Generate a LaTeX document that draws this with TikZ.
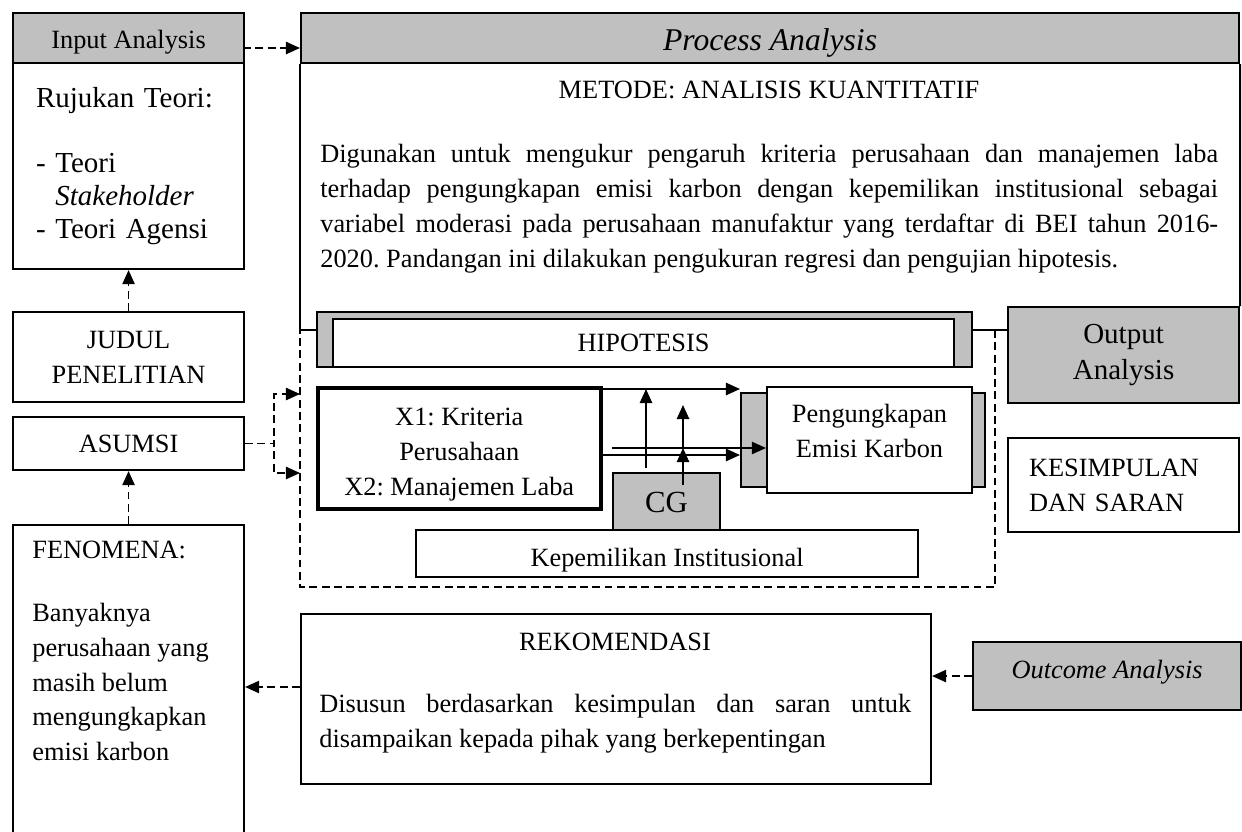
\documentclass[tikz,border=0pt]{standalone}
\usepackage{fontspec}
\setmainfont{Liberation Serif}
\usepackage{tikz}
\usetikzlibrary{arrows.meta}
\frenchspacing
\definecolor{boxgray}{RGB}{192,192,192}
\tikzset{
    >={Triangle[length=8pt,width=7pt]}, % Default arrow tip
    box/.style={draw, line width=1.2pt, inner sep=0pt, anchor=north west},
    greybox/.style={box, fill=boxgray},
    wh/.style 2 args={minimum width=#1*\px, minimum height=#2*\px},
    txt/.style={font=\fontsize{15}{19.8}\selectfont},
    bigtxt/.style={font=\fontsize{16.5}{18.7}\selectfont},
    dashline/.style={line width=0.9pt, dash pattern=on 4.5pt off 2.5pt},
    link/.style={->, line width=1pt}
}
\def\px{0.02cm}

\begin{document}
\begin{tikzpicture}[x=\px, y=-\px]
    \useasboundingbox (0,0) rectangle (1242,832);

    % left column
    \draw
        node[greybox, wh={231}{50}, txt, text height=12.4pt, text depth=0pt] (inhead) at (12,12) {Input Analysis}
        node[box, wh={231}{206}, bigtxt, align=left, text width=3.7cm] (theory) at (12,62)
            {Rujukan Teori:\\[18.7pt]- Teori\\\phantom{-} \textit{Stakeholder}\\- Teori Agensi}
        node[box, wh={231}{90}, txt, align=center] (judul) at (12,311) {JUDUL\\PENELITIAN}
        node[box, wh={231}{53}, txt] (asumsi) at (12,416) {ASUMSI}
        node[box, wh={231}{320}] (fenomena) at (12,524) {}
        node[txt, anchor=north west, inner sep=0pt, align=left] (fentext) at (32,541)
            {FENOMENA:\\[15.9pt]Banyaknya\\perusahaan yang\\masih belum\\mengungkapkan\\emisi karbon}
    ;

    % process analysis
    \draw
        node[greybox, wh={938}{50}, font=\fontsize{18}{21}\selectfont\itshape, text height=14.7pt, text depth=0pt] (prhead) at (300,12) {Process Analysis}
        node[txt, anchor=base, inner sep=0pt] (metode) at (769,98) {METODE: ANALISIS KUANTITATIF}
        node[txt, anchor=north west, inner sep=0pt, text width=17.96cm, align=justify] (method) at (320,144)
            {Digunakan untuk mengukur pengaruh kriteria perusahaan dan manajemen laba\linebreak
             terhadap pengungkapan emisi karbon dengan kepemilikan institusional sebagai\linebreak
             variabel moderasi pada perusahaan manufaktur yang terdaftar di BEI tahun 2016-\linebreak
             2020. Pandangan ini dilakukan pengukuran regresi dan pengujian hipotesis.}
        node[greybox, wh={655}{55}] (hipoback) at (316,311) {}
        node[box, fill=white, wh={621}{48}, txt] (hipo) at (332,318) {HIPOTESIS}
        node[box, line width=2pt, wh={283}{121}, txt, align=center] (xbox) at (316,386)
            {\rule{0pt}{17pt}X1: Kriteria\\Perusahaan\\X2: Manajemen Laba}
        node[greybox, wh={107}{57}, font=\fontsize{17.5}{21}\selectfont, text height=13pt, text depth=0pt] (cg) at (612,472) {CG}
        node[box, fill=white, wh={502}{47}, txt, text height=14.2pt, text depth=0pt] (kep) at (415,529) {Kepemilikan Institusional}
        node[greybox, wh={244}{94}] (pengback) at (740,392) {}
        node[box, fill=white, wh={205}{106}, txt, align=center] (peng) at (766,386)
            {Pengungkapan\\Emisi Karbon\rule[-10.8pt]{0pt}{10.8pt}}
    ;

    % output and outcome
    \draw
        node[greybox, wh={231}{96}, font=\fontsize{16.5}{21}\selectfont, align=center] (output) at (1007,306) {Output\\Analysis}
        node[box, wh={231}{94}, txt, align=left, text width=3.78cm] (kesimpulan) at (1007,437) {KESIMPULAN\\DAN SARAN}
        node[box, wh={630}{170}] (rek) at (300,613) {}
        node[txt, anchor=base, inner sep=0pt] (rektitle) at (615,650) {REKOMENDASI}
        node[txt, anchor=north west, inner sep=0pt, text width=11.84cm, align=justify] (rektext) at (319,694)
            {Disusun berdasarkan kesimpulan dan saran untuk\linebreak disampaikan kepada pihak yang berkepentingan}
        node[greybox, wh={268}{68}, font=\fontsize{15}{18}\selectfont\itshape, text depth=8pt] (outcome) at (972,641) {Outcome Analysis}
    ;

    % frame of the process box
    \coordinate (hl) at (316,330);
    \coordinate (hr) at (971,330);
    \draw[line width=1.2pt] (prhead.south west) |- (hl);
    \draw[line width=1.2pt] (prhead.south east) -- (output.north east);
    \draw[line width=1pt] (hr) -- (hr -| output.west);
    \draw[dashline] (995,330) |- (300,587) -- (300,330);

    % dashed links
    \coordinate (ia) at (243,48);
    \coordinate (in1) at (300,394);
    \coordinate (in2) at (300,473);
    \coordinate (rk) at (300,687);
    \draw[dashline, ->] (ia) -- (ia -| prhead.west);
    \draw[dashline, ->] (judul.north) -- (theory.south);
    \draw[dashline, ->] (fenomena.north) -- (asumsi.south);
    \draw[dashline, ->] (asumsi.east) -- ++(29,0) |- (in1);
    \draw[dashline, ->] (asumsi.east) -- ++(29,0) |- (in2);
    \draw[dashline, ->] (rk) -- (rk -| fenomena.east);
    \draw[dashline, ->] (outcome.west) -- (outcome.west -| rek.east);

    % model arrows
    \coordinate (a1) at (599,389);
    \coordinate (a2) at (599,455);
    \coordinate (a3) at (612,448);
    \coordinate (c1) at (646,468);
    \coordinate (c2) at (683,485);
    \coordinate (c3) at (683,405);
    \draw[link] (a1) -- (a1 -| pengback.west);
    \draw[link] (a2) -- (a2 -| pengback.west);
    \draw[link, line width=0.7pt] (a3) -- (a3 -| peng.west);
    \draw[link] (c1) -- (c1 |- a1);
    \draw[link] (c2) -- (c2 |- a3);
    \draw[link] (c2 |- a3) -- (c3);
\end{tikzpicture}
\end{document}
